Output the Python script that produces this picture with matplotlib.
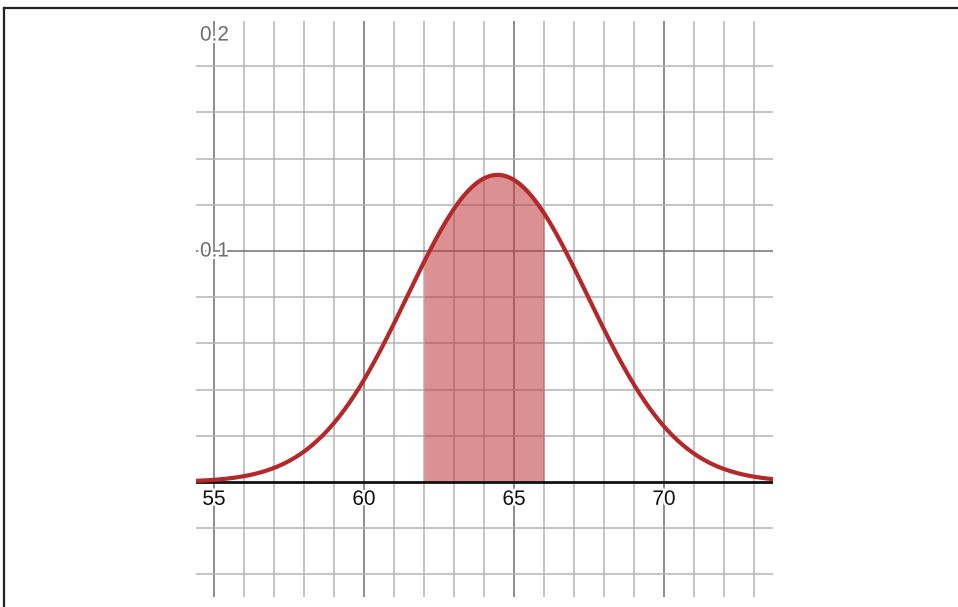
import numpy as np
import matplotlib.pyplot as plt
import matplotlib.patheffects as pe

# normal curve parameters
mean = 64.45
sd = 3.0
shade_from = 62
shade_to = 66

x_ticks = [55, 60, 65, 70]
x_tick_labels = ["55", "60", "65", "70"]
y_ticks = [0.1, 0.2]
y_tick_labels = ["0.1", "0.2"]

x_min, x_max = 54.4, 73.63
y_min, y_max = -0.0498, 0.1996

W, H = 958, 607
fig = plt.figure(figsize=(W / 100, H / 100), dpi=100)
plt.rcParams['font.family'] = ['Liberation Sans', 'DejaVu Sans']

# screenshot border (top and left only)
fig.add_artist(plt.Line2D([3.5 / W, 1], [1 - 7.5 / H, 1 - 7.5 / H], color="#222222", lw=1.6))
fig.add_artist(plt.Line2D([3.5 / W, 3.5 / W], [0, 1 - 7.5 / H], color="#222222", lw=1.6))

ax = fig.add_axes([196 / W, (H - 597) / H, (773 - 196) / W, (597 - 21) / H])
ax.set_xlim(x_min, x_max)
ax.set_ylim(y_min, y_max)
ax.axis("off")

# grid
for gx in np.arange(55, 74):
    major = gx % 5 == 0
    ax.axvline(gx, color="#6f6f6f" if major else "#b4b4b4", lw=1.1, zorder=0)
for gy in np.arange(-0.04, 0.2, 0.02):
    gy = round(gy, 2)
    if gy == 0:
        continue
    major = abs(gy - 0.1) < 1e-9
    ax.axhline(gy, color="#6f6f6f" if major else "#b4b4b4", lw=1.1, zorder=0)

ax.axhline(0, color="#111111", lw=2, zorder=3)

xs = np.linspace(x_min, x_max, 600)
ys = np.exp(-0.5 * ((xs - mean) / sd) ** 2) / (sd * np.sqrt(2 * np.pi))
mask = (xs >= shade_from) & (xs <= shade_to)
xf = np.concatenate([[shade_from], xs[mask], [shade_to]])
yf = np.exp(-0.5 * ((xf - mean) / sd) ** 2) / (sd * np.sqrt(2 * np.pi))
ax.fill_between(xf, 0, yf, color="#c0393b", alpha=0.56, lw=0, zorder=2)
ax.plot(xs, ys, color="#b3282b", lw=3, zorder=4, solid_capstyle="round")

halo = [pe.withStroke(linewidth=3.5, foreground="white")]
for t, lab in zip(x_ticks, x_tick_labels):
    ax.text(t, -0.0075, lab, ha="center", va="center", fontsize=15,
            color="#111111", path_effects=halo, zorder=5)
for t, lab in zip(y_ticks, y_tick_labels):
    yy = t if t < 0.15 else 0.1935
    ax.text(4 / (773 - 196), yy, lab, transform=ax.get_yaxis_transform(),
            ha="left", va="center", fontsize=15, color="#6e6e6e",
            path_effects=halo, zorder=5)

fig.savefig("out.png", dpi=100)
